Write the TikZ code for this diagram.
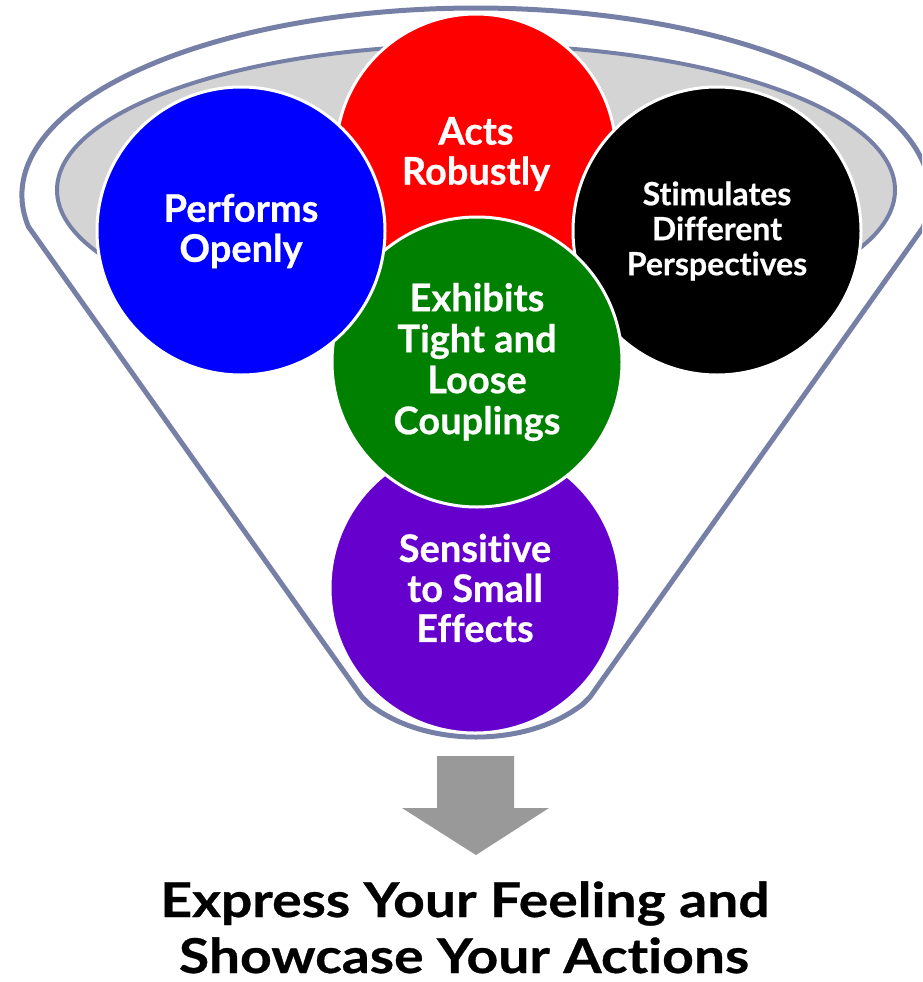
\documentclass[tikz,border=0pt]{standalone}
\usepackage{fontspec}
\setmainfont{Lato}[Ligatures=NoCommon, BoldFeatures={FakeBold=0.6}]
\newfontfamily\titlefont{Lato}[Ligatures=NoCommon, FakeStretch=1.15, BoldFeatures={FakeBold=0.6}]
\definecolor{slate}{RGB}{118,128,166}
\definecolor{lightgr}{RGB}{212,212,212}
\definecolor{arrowgr}{RGB}{153,153,153}
\definecolor{cblue}{RGB}{0,0,255}
\definecolor{cred}{RGB}{255,0,0}
\definecolor{cgreen}{RGB}{0,128,0}
\definecolor{cpurple}{RGB}{102,0,204}
\tikzset{
  bubble/.style={circle, draw=white, line width=3pt, inner sep=0pt, text=white, align=center},
  funnelline/.style={draw=slate, line width=5pt, line join=round},
  title/.style={anchor=base, font=\titlefont\bfseries\fontsize{48}{48}\selectfont, text=black, inner sep=0pt, text depth=0pt}
}
\begin{document}
\begin{tikzpicture}[x=1pt,y=-1pt]
\useasboundingbox (0,0) rectangle (922,982);
\clip (0,0) rectangle (922,982);
% funnel outline
\draw[funnelline, fill=white] (29,227.5) -- (362,697) -- (369,704)
  .. controls (400,728) and (440,737) .. (476,737)
  .. controls (512,737) and (552,728) .. (583,704) -- (590,697) -- (923,227.5)
  arc[start angle=10, end angle=-190, x radius=454, y radius=187] -- cycle;
% inner ellipse
\draw[draw=slate, line width=4pt, fill=lightgr] (476,190) ellipse [x radius=419, y radius=145];
% circles
\node[bubble, fill=cpurple, minimum size=290pt, font=\bfseries\fontsize{38}{40}\selectfont] (purple) at (475,588) {Sensitive\\to Small\\Effects};
\node[bubble, fill=cred, minimum size=280pt, font=\bfseries\fontsize{38}{40}\selectfont] (red) at (476,154) {Acts\\Robustly};
\node[bubble, fill=black, minimum size=288pt, font=\bfseries\fontsize{32}{35}\selectfont] (black) at (717,231) {Stimulates\\Different\\Perspectives};
\node[bubble, fill=cgreen, minimum size=290pt, font=\bfseries\fontsize{38}{41}\selectfont] (green) at (477,362) {Exhibits\\Tight and\\Loose\\Couplings};
\node[bubble, fill=cblue, minimum size=288pt, font=\bfseries\fontsize{38}{40}\selectfont] (blue) at (241,231) {Performs\\Openly};
% arrow
\fill[arrowgr] (437,756) -- (514,756) -- (514,808) -- (549,808) -- (476,855) -- (402,808) -- (437,808) -- cycle;
% title
\node[title] (t1) at (465,917) {Express Your Feeling and};
\node[title] (t2) at (464,973) {Showcase Your Actions};
\end{tikzpicture}
\end{document}
